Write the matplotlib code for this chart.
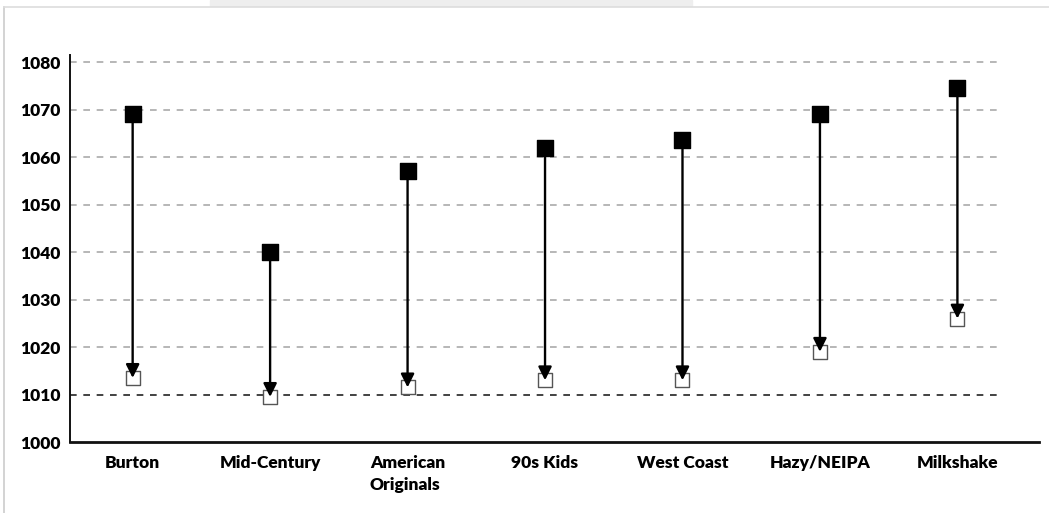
import matplotlib.pyplot as plt
from matplotlib.lines import Line2D

# Gravity drop per style: original gravity (top) -> final gravity (bottom)
styles = ['Burton', 'Mid-Century', 'American\nOriginals', '90s Kids',
          'West Coast', 'Hazy/NEIPA', 'Milkshake']
og = [1069, 1040, 1057, 1062, 1063.5, 1069, 1074.5]
fg = [1013.5, 1009.5, 1011.5, 1013, 1013, 1019, 1026]
yticks = [1000, 1010, 1020, 1030, 1040, 1050, 1060, 1070, 1080]

plt.rcParams['font.family'] = ['Lato', 'DejaVu Sans']

fig = plt.figure(figsize=(10.49, 5.13), dpi=100)
ax = fig.add_axes([0.0667, 0.1384, 0.9233, 0.7544])

x = list(range(len(styles)))
ax.set_xlim(-0.456, 6.59)
ax.set_ylim(1000, 1081.5)

# grid lines (stop short of the right end of the axis)
for t in yticks[1:]:
    if t == 1010:
        ax.hlines(t, -0.456, 6.29, colors='#222222', linestyles=(0, (4, 4)), lw=1.2, zorder=1)
    else:
        ax.hlines(t, -0.456, 6.29, colors='#aaaaaa', linestyles=(0, (4, 4)), lw=1.2, zorder=1)

ax.scatter(x, fg, marker='s', s=100, facecolor='white', edgecolor='#555555', lw=1.0, zorder=2)
for i in x:
    ax.annotate('', xy=(i, fg[i]), xytext=(i, og[i]),
                arrowprops=dict(arrowstyle='-|>,head_length=0.8,head_width=0.4',
                                color='black', lw=1.7, shrinkA=0, shrinkB=0),
                zorder=3)
ax.scatter(x, og, marker='s', s=130, color='black', zorder=4)

ax.set_xticks(x)
ax.set_xticklabels(styles, fontsize=12.5, fontweight='heavy', va='top',
                   multialignment='left', linespacing=1.5)
ax.set_yticks(yticks)
ax.set_yticklabels([str(t) for t in yticks], fontsize=12.5, fontweight='heavy')
ax.tick_params(axis='both', length=0)
ax.tick_params(axis='x', pad=9)
ax.tick_params(axis='y', pad=7)

for s in ['top', 'right']:
    ax.spines[s].set_visible(False)
ax.spines['left'].set_linewidth(1.4)
ax.spines['bottom'].set_linewidth(2.0)
ax.spines['left'].set_color('#111111')
ax.spines['bottom'].set_color('#111111')

# outer frame of the chart area
fig.add_artist(Line2D([0.004, 0.004], [0, 0.987], color='#cccccc', lw=1.2))
fig.add_artist(Line2D([0.004, 1.0], [0.987, 0.987], color='#dddddd', lw=1.2))
fig.patches.append(plt.Rectangle((0.2, 0.988), 0.46, 0.012, transform=fig.transFigure,
                                 color='#eeeeee', zorder=0))

fig.savefig('out.png', dpi=100)
